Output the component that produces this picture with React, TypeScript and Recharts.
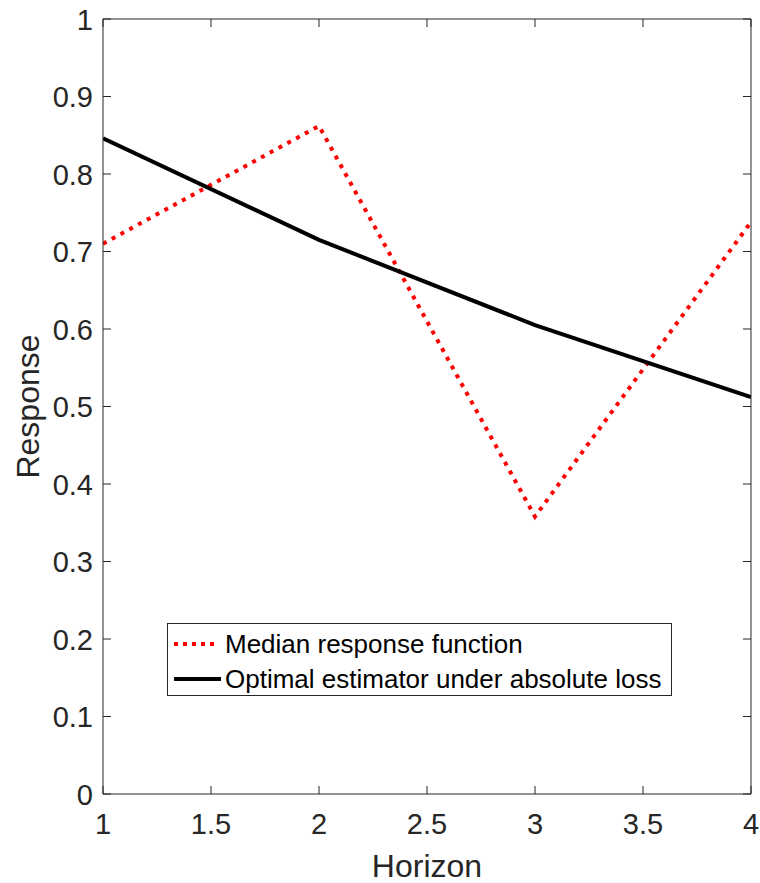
import React from 'react';
import { LineChart, Line, XAxis, YAxis } from 'recharts';

const horizons = [1, 2, 3, 4];
const medianResponse = [0.71, 0.862, 0.358, 0.738];
const optimalEstimator = [0.846, 0.715, 0.605, 0.512];
const xTicks = [1, 1.5, 2, 2.5, 3, 3.5, 4];
const yTicks = [0, 0.1, 0.2, 0.3, 0.4, 0.5, 0.6, 0.7, 0.8, 0.9, 1];
const seriesNames = ['Median response function', 'Optimal estimator under absolute loss'];

const data = horizons.map((h, i) => ({
  h,
  median: medianResponse[i],
  optimal: optimalEstimator[i],
}));

const AX = '#262626';
const FONT = 'Arial, "Liberation Sans", Helvetica, sans-serif';
const TL = 8;

const fmt = (v: number) => String(v);

const BottomTick = (p: any) => (
  <g>
    <line x1={p.x} x2={p.x} y1={p.y} y2={p.y - TL} stroke={AX} strokeWidth={1} />
    <text x={p.x} y={p.y + 40} textAnchor="middle" fill={AX} fontSize={29} fontFamily={FONT}>
      {fmt(p.payload.value)}
    </text>
  </g>
);
const TopTick = (p: any) => (
  <line x1={p.x} x2={p.x} y1={p.y} y2={p.y + TL} stroke={AX} strokeWidth={1} />
);
const LeftTick = (p: any) => (
  <g>
    <line x1={p.x} x2={p.x + TL} y1={p.y} y2={p.y} stroke={AX} strokeWidth={1} />
    <text x={p.x - 10} y={p.y + 10.5} textAnchor="end" fill={AX} fontSize={29} fontFamily={FONT}>
      {fmt(p.payload.value)}
    </text>
  </g>
);
const RightTick = (p: any) => (
  <line x1={p.x} x2={p.x - TL} y1={p.y} y2={p.y} stroke={AX} strokeWidth={1} />
);

const LegendBox = () => (
  <div
    style={{
      position: 'absolute',
      left: 167,
      top: 623,
      width: 505,
      height: 73,
      boxSizing: 'border-box',
      border: `1px solid ${AX}`,
      background: '#fff',
      fontFamily: FONT,
      fontSize: 26,
      color: '#000',
    }}
  >
    <svg width={60} height={73} style={{ position: 'absolute', left: 0, top: 0 }}>
      <line x1={6} x2={50} y1={20} y2={20} stroke="#ff0000" strokeWidth={4} strokeDasharray="4 5" />
      <line x1={6} x2={53} y1={55} y2={55} stroke="#000" strokeWidth={4} />
    </svg>
    <div style={{ position: 'absolute', left: 57, top: 4, lineHeight: '32px', whiteSpace: 'nowrap' }}>
      {seriesNames[0]}
    </div>
    <div style={{ position: 'absolute', left: 57, top: 39, lineHeight: '32px', whiteSpace: 'nowrap' }}>
      {seriesNames[1]}
    </div>
  </div>
);

export default function App() {
  return (
    <div style={{ position: 'absolute', left: 0, top: 0, width: 760, height: 883, background: '#fff' }}>
      <LineChart
        width={760}
        height={883}
        data={data}
        margin={{ top: 18, right: 8, left: 0, bottom: 0 }}
      >
        <XAxis
          xAxisId="b"
          dataKey="h"
          type="number"
          domain={[1, 4]}
          ticks={xTicks}
          height={89}
          tickSize={0}
          tickMargin={0}
          tickLine={false}
          axisLine={{ stroke: AX, strokeWidth: 1 }}
          tick={<BottomTick />}
          interval={0}
          allowDataOverflow
          label={(props: any) => {
            const vb = props.viewBox || {};
            return (
              <text
                x={vb.x + vb.width / 2}
                y={vb.y + 83}
                textAnchor="middle"
                fill={AX}
                fontSize={32}
                fontFamily={FONT}
              >
                Horizon
              </text>
            );
          }}
        />
        <XAxis
          xAxisId="t"
          orientation="top"
          dataKey="h"
          type="number"
          domain={[1, 4]}
          ticks={xTicks}
          height={1}
          tickSize={0}
          tickMargin={0}
          tickLine={false}
          axisLine={{ stroke: AX, strokeWidth: 1 }}
          tick={<TopTick />}
          interval={0}
          allowDataOverflow
        />
        <YAxis
          yAxisId="l"
          type="number"
          domain={[0, 1]}
          ticks={yTicks}
          width={103}
          tickSize={0}
          tickMargin={0}
          tickLine={false}
          axisLine={{ stroke: AX, strokeWidth: 1 }}
          tick={<LeftTick />}
          interval={0}
          allowDataOverflow
          label={(props: any) => {
            const vb = props.viewBox || {};
            const cy = vb.y + vb.height / 2;
            return (
              <text
                x={39}
                y={cy}
                transform={`rotate(-90, 39, ${cy})`}
                textAnchor="middle"
                fill={AX}
                fontSize={32}
                fontFamily={FONT}
              >
                Response
              </text>
            );
          }}
        />
        <YAxis
          yAxisId="r"
          orientation="right"
          type="number"
          domain={[0, 1]}
          ticks={yTicks}
          width={1}
          tickSize={0}
          tickMargin={0}
          tickLine={false}
          axisLine={{ stroke: AX, strokeWidth: 1 }}
          tick={<RightTick />}
          interval={0}
          allowDataOverflow
        />
        <Line
          xAxisId="b"
          yAxisId="l"
          type="linear"
          dataKey="median"
          name={seriesNames[0]}
          stroke="#ff0000"
          strokeWidth={4}
          strokeDasharray="4 6"
          dot={false}
          activeDot={false}
          isAnimationActive={false}
        />
        <Line
          xAxisId="b"
          yAxisId="l"
          type="linear"
          dataKey="optimal"
          name={seriesNames[1]}
          stroke="#000000"
          strokeWidth={4}
          dot={false}
          activeDot={false}
          isAnimationActive={false}
        />
      </LineChart>
      <LegendBox />
    </div>
  );
}
